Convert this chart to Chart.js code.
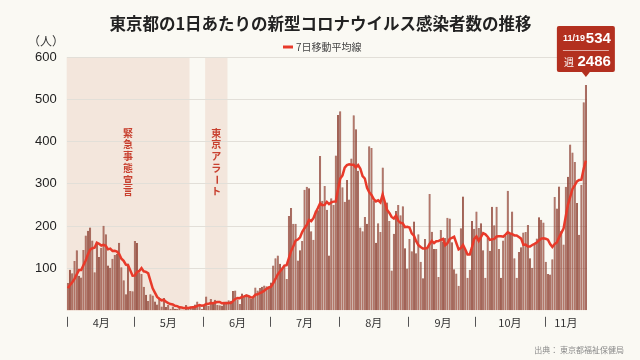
<!DOCTYPE html>
<html>
<head>
<meta charset="utf-8">
<script src="https://cdn.jsdelivr.net/npm/chart.js@4/dist/chart.umd.min.js"></script>
<style>
html, body { margin: 0; padding: 0; background: #faf9f3; }
#wrap { width: 640px; height: 360px; position: relative; }
</style>
</head>
<body>
<div id="wrap"><canvas id="chart"></canvas></div>
<script>
// daily new cases, Tokyo (Apr 1 - Nov 19)
var casesApr = [66,97,89,118,143,83,79,144,178,189,197,166,91,161,127,149,201,181,107,102,123,132,134,161,103,72,39,112,47,46];
var casesMay = [165,160,91,87,57,38,23,39,36,22,15,28,10,30,9,14,5,10,5,5,11,3,2,14,8,10,11,15,22,14,5];
var casesJun = [13,34,12,28,20,26,14,13,12,18,22,25,24,47,48,27,16,41,35,39,35,29,31,55,48,54,57,60,58,54];
var casesJul = [67,107,124,131,111,102,106,75,224,243,206,206,119,143,165,286,293,290,188,168,237,238,366,260,295,239,131,266,250,367,463];
var casesAug = [472,292,258,309,263,360,462,429,331,197,188,222,206,389,385,260,161,207,186,339,258,256,212,95,182,236,250,226,247,148,100];
var casesSep = [170,141,211,136,181,116,77,170,149,276,187,146,146,80,191,163,172,220,218,162,98,88,59,195,270,144,78,97,212,194];
var casesOct = [235,196,207,143,78,172,142,246,202,246,146,78,166,177,284,184,235,124,78,139,150,185,186,203,124,102,158,171,221,215,209];
var casesNov = [116,87,86,122,269,242,294,189,157,293,317,393,374,352,255,180,298,493,534];

// 7-day moving average
var maApr = [53.6,60.7,67.7,75.6,86.3,96.3,96.4,107.6,119.1,133.4,144.7,148,149.1,160.9,158.4,154.3,156,153.7,145.3,146.9,141.4,142.1,140,134.3,123.1,118.1,109.1,107.6,95.4,82.9];
var maMay = [83.4,91.6,94.3,101.1,93.3,92,88.7,70.7,53,43.1,32.9,28.7,24.7,25.7,21.4,18.3,15.9,15.1,11.9,11.1,8.4,7.6,5.9,7.1,6.9,7.6,8.4,9,11.7,13.4,12.1];
var maJun = [12.9,16.3,16.4,18.3,18,19.7,21,21,17.9,18.7,17.9,18.6,18.3,23,28,30.1,29.9,32.6,34,36.1,34.4,31.7,32.3,37.9,38.9,41.6,44.1,47.7,51.9,55.1];
var maJul = [56.9,65.3,75.3,85.9,93.1,99.4,106.9,108,124.7,141.7,152.4,166,168.4,173.7,186.6,195.4,202.6,214.6,212,219,232.4,242.9,254.3,249.6,250.3,257.6,252.3,256.4,258.1,258.3,287.3];
var maAug = [312.6,320.1,338.3,344.4,346.3,345.3,345.1,339,344.6,335.9,318.6,312.7,290.7,280.3,274,263.9,258.7,261.4,256.3,275.3,256.6,238.1,231.3,221.9,218.3,225.4,212.7,208.1,206.9,197.7,198.4];
var maSep = [196.7,183.1,177.6,164.7,155.3,150.7,147.4,147.4,148.6,157.9,165.1,160.1,164.4,164.9,167.9,169.9,155,159.7,170,172.3,174.9,160.1,145.3,148.6,155.7,145.1,133.1,133,150.7,170];
var maOct = [175.7,165.1,174.1,183.4,180.7,175,167.6,169.1,170,175.6,176,176,175.1,180.1,185.6,183,181.4,178.3,178.3,174.4,170.6,156.4,156.7,152.1,152.1,155.6,158.3,161.3,166.4,170.6,171.4];
var maNov = [170.3,168.1,157.9,150.9,157.7,161.6,173.7,184.1,194.1,223.7,251.6,269.3,288.1,296.4,305.9,309.1,309.9,335,355.1];

var monthNums = [4, 5, 6, 7, 8, 9, 10, 11];
var monthLabels = ['4月', '5月', '6月', '7月', '8月', '9月', '10月', '11月'];
var yTicks = [100, 200, 300, 400, 500, 600];

// shaded periods, as "M/D" labels
var emergencyPeriod = ['4/1', '5/25'];
var alertPeriod = ['6/2', '6/11'];

var calloutDate = '11/19';
var calloutValue = 534;
var calloutWeek = 2486;

var titleText = '東京都の1日あたりの新型コロナウイルス感染者数の推移';
var maLabel = '7日移動平均線';

var casesByMonth = [casesApr, casesMay, casesJun, casesJul, casesAug, casesSep, casesOct, casesNov];
var maByMonth = [maApr, maMay, maJun, maJul, maAug, maSep, maOct, maNov];

var labels = [];
var monthStart = [];
var monthMid = {};
casesByMonth.forEach((arr, m) => {
    monthStart.push(labels.length);
    monthMid[labels.length + Math.floor(arr.length / 2)] = monthLabels[m];
    arr.forEach((_, d) => labels.push(monthNums[m] + '/' + (d + 1)));
});
var cases = [].concat(...casesByMonth);
var movingAvg = [].concat(...maByMonth);

var JP = '"Noto Sans CJK JP", "Noto Sans", sans-serif';
var NUM = '"Liberation Sans", Arial, sans-serif';

function halfStep(xs) {
    return (xs.getPixelForValue(1) - xs.getPixelForValue(0)) / 2;
}

function periodPixels(chart, p) {
    const {chartArea, scales: {x}} = chart;
    const h = halfStep(x);
    const x0 = Math.max(chartArea.left, x.getPixelForValue(labels.indexOf(p[0])) - h);
    const x1 = x.getPixelForValue(labels.indexOf(p[1])) + h;
    return [x0, x1];
}

const decorPlugin = {
    id: 'decor',
    beforeDraw(chart) {
        const {ctx, chartArea} = chart;
        ctx.save();
        ctx.fillStyle = '#f3e6dc';
        [emergencyPeriod, alertPeriod].forEach((p) => {
            const [x0, x1] = periodPixels(chart, p);
            ctx.fillRect(x0, chartArea.top, x1 - x0, chartArea.bottom - chartArea.top);
        });
        ctx.restore();
    },
    beforeDatasetsDraw(chart) {
        const {ctx} = chart;
        ctx.save();
        ctx.fillStyle = '#c8402f';
        ctx.font = 'bold 10px ' + JP;
        ctx.textAlign = 'center';
        ctx.textBaseline = 'middle';
        [[emergencyPeriod, '緊急事態宣言'], [alertPeriod, '東京アラート']].forEach(([p, text]) => {
            const [x0, x1] = periodPixels(chart, p);
            const cx = (x0 + x1) / 2;
            let cy = 133;
            [...text].forEach((ch) => {
                if (ch === 'ー') {
                    ctx.save();
                    ctx.translate(cx, cy);
                    ctx.rotate(Math.PI / 2);
                    ctx.fillText(ch, 0, 0);
                    ctx.restore();
                } else {
                    ctx.fillText(ch, cx, cy);
                }
                cy += 11.7;
            });
        });
        ctx.restore();
    },
    afterDraw(chart) {
        const {ctx, chartArea, scales: {x, y}} = chart;
        const h = halfStep(x);
        ctx.save();
        // title and legend
        ctx.textBaseline = 'middle';
        ctx.textAlign = 'center';
        ctx.fillStyle = '#222';
        ctx.font = 'bold 16.5px ' + JP;
        ctx.fillText(titleText, 320.5, 24);
        ctx.strokeStyle = '#e83a2a';
        ctx.lineWidth = 3;
        ctx.beginPath();
        ctx.moveTo(283, 47);
        ctx.lineTo(293, 47);
        ctx.stroke();
        ctx.fillStyle = '#444';
        ctx.font = '10px ' + JP;
        ctx.textAlign = 'left';
        ctx.fillText(maLabel, 296, 47);

        // month separators under the axis
        ctx.strokeStyle = '#555';
        ctx.lineWidth = 1;
        monthStart.forEach((i) => {
            const px = Math.round(x.getPixelForValue(i) - h) + 0.5;
            ctx.beginPath();
            ctx.moveTo(px, chartArea.bottom + 6);
            ctx.lineTo(px, chartArea.bottom + 16);
            ctx.stroke();
        });
        // unit label
        ctx.fillStyle = '#333';
        ctx.font = '12px ' + JP;
        ctx.textAlign = 'center';
        ctx.fillText('（人）', 46, 41);
        // source
        ctx.fillStyle = '#8a8a8a';
        ctx.font = '8px ' + JP;
        ctx.textAlign = 'right';
        ctx.fillText('出典： 東京都福祉保健局', 624, 350);

        // callout on the last day
        const idx = labels.indexOf(calloutDate);
        const bx = x.getPixelForValue(idx);
        const by = y.getPixelForValue(calloutValue);
        const w = 58, top = 26, bottom = 72;
        const left = bx - w / 2;
        ctx.fillStyle = '#b3301f';
        ctx.beginPath();
        ctx.roundRect(left, top, w, bottom - top, 2);
        ctx.fill();
        ctx.beginPath();
        ctx.moveTo(bx - 4, bottom);
        ctx.lineTo(bx + 4, bottom);
        ctx.lineTo(bx, Math.min(bottom + 5, by - 6));
        ctx.closePath();
        ctx.fill();
        ctx.strokeStyle = 'rgba(255,255,255,0.6)';
        ctx.beginPath();
        ctx.moveTo(left + 6, 50.5);
        ctx.lineTo(left + w - 6, 50.5);
        ctx.stroke();
        ctx.fillStyle = '#fff';
        ctx.textAlign = 'left';
        ctx.font = 'bold 9px ' + NUM;
        ctx.fillText(calloutDate, left + 6, 39);
        ctx.font = '10px ' + JP;
        ctx.fillText('週', left + 7, 62);
        ctx.textAlign = 'right';
        ctx.font = 'bold 15px ' + NUM;
        ctx.fillText(String(calloutValue), left + w - 4, 39);
        ctx.fillText(String(calloutWeek), left + w - 4, 62);
        ctx.restore();
    }
};

new Chart(document.getElementById('chart'), {
    type: 'bar',
    data: {
        labels: labels,
        datasets: [{
            type: 'line',
            label: maLabel,
            data: movingAvg,
            borderColor: '#e83a2a',
            backgroundColor: '#e83a2a',
            borderWidth: 2.5,
            pointRadius: 0,
            tension: 0,
            order: 0
        }, {
            label: '新規感染者数',
            data: cases,
            backgroundColor: '#a5594a',
            borderColor: '#742214',
            borderWidth: {left: 0.7, right: 0.7, top: 0, bottom: 0},
            barPercentage: 1,
            categoryPercentage: 0.92,
            order: 1
        }]
    },
    options: {
        responsive: true,
        maintainAspectRatio: false,
        devicePixelRatio: 1,
        animation: false,
        layout: {padding: {left: 25, right: 53, top: 57, bottom: 26}},
        plugins: {
            title: {display: false},
            legend: {display: false},
            tooltip: {enabled: false}
        },
        scales: {
            x: {
                offset: true,
                grid: {display: false, drawTicks: false},
                border: {display: false},
                ticks: {
                    autoSkip: false,
                    maxRotation: 0,
                    minRotation: 0,
                    padding: 5,
                    color: '#333',
                    font: {family: JP, size: 11},
                    callback: (v, i) => monthMid[i] || ''
                }
            },
            y: {
                min: 0,
                max: 600,
                afterBuildTicks: (axis) => { axis.ticks = [0].concat(yTicks).map((v) => ({value: v})); },
                border: {display: false},
                grid: {
                    color: (c) => c.tick && c.tick.value === 0 ? 'transparent' : '#e2dfd8',
                    drawTicks: false
                },
                ticks: {
                    color: '#222',
                    padding: 10,
                    font: {family: NUM, size: 13},
                    callback: (v) => v === 0 ? '' : v
                }
            }
        }
    },
    plugins: [decorPlugin]
});
</script>
</body>
</html>
